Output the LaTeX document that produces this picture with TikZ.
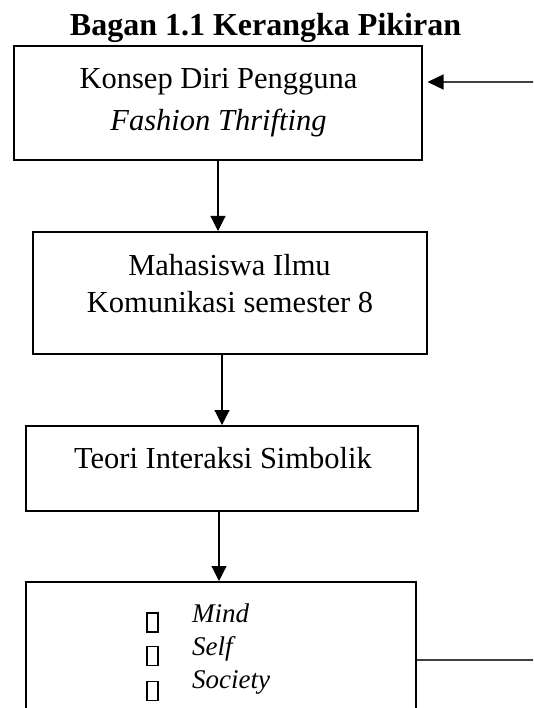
\documentclass[tikz,border=0pt]{standalone}
\usepackage{fontspec}
\setmainfont{Liberation Serif}
\usetikzlibrary{arrows.meta}
\begin{document}
\begin{tikzpicture}[x=1pt,y=1pt,
  box/.style={draw=black, line width=2pt, rectangle, inner sep=0pt},
  arr/.style={draw=black, line width=1.1pt, -{Triangle[length=15pt,width=15pt]}},
  conn/.style={draw=black!75, line width=1.3pt},
  txt/.style={anchor=base, inner sep=0pt, font=\fontsize{30.5}{36}\selectfont},
  itx/.style={anchor=base west, inner sep=0pt, font=\fontsize{27}{32}\selectfont\itshape},
  sq/.style={draw=black, line width=1.4pt, minimum width=11pt, minimum height=19pt, inner sep=0pt}]
\useasboundingbox (0,0) rectangle (533,-708);
\clip (0,0) rectangle (533,-708);
\fill[white] (0,0) rectangle (533,-708);
% title
\node[anchor=base, inner sep=0pt, font=\fontsize{32}{38}\selectfont\bfseries] (title) at (265.5,-36) {Bagan 1.1 Kerangka Pikiran};
% boxes
\node[box, minimum width=408pt, minimum height=114pt] (b1) at (218,-103) {};
\node[box, minimum width=394pt, minimum height=122pt] (b2) at (230,-293) {};
\node[box, minimum width=392pt, minimum height=85pt] (b3) at (222,-468.5) {};
\node[box, minimum width=390pt, minimum height=158pt] (b4) at (221,-661) {};
% texts
\node[txt] (t1a) at (218.5,-89) {Konsep Diri Pengguna};
\node[txt] (t1b) at (218.5,-131) {\itshape Fashion Thrifting};
\node[txt] (t2a) at (229.5,-275) {Mahasiswa Ilmu};
\node[txt] (t2b) at (230,-312) {Komunikasi semester 8};
\node[txt] (t3) at (223,-468) {Teori Interaksi Simbolik};
\node[sq] (s1) at (152.5,-622.5) {};
\node[sq] (s2) at (152.5,-656) {};
\node[sq] (s3) at (152.5,-691) {};
\node[itx] (m1) at (192,-622) {Mind};
\node[itx] (m2) at (192,-655) {Self};
\node[itx] (m3) at (192,-688) {Society};
% connectors
\draw[arr] (b1.south) -- (b2.north -| b1.south);
\draw[arr] (b2.south -| b3.north) -- (b3.north);
\coordinate (c3) at (219,0);
\draw[arr] (b3.south -| c3) -- (b4.north -| c3);
\coordinate (r1) at (534,-82);
\draw[conn, -{Triangle[length=16pt,width=15pt,color=black,fill=black]}] (r1) -- ([xshift=4.5pt]b1.east |- r1);
\coordinate (r2) at (534,-660);
\draw[conn] (b4.east |- r2) -- (r2);
\end{tikzpicture}
\end{document}
